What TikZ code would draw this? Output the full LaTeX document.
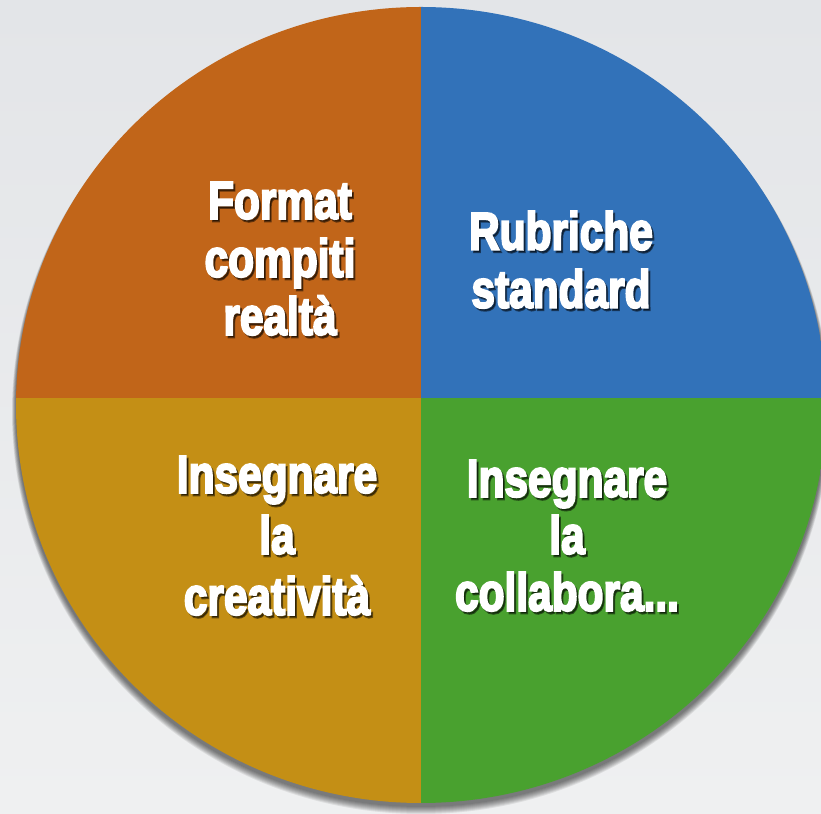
\documentclass[tikz,border=0pt]{standalone}
\usepackage{fontspec}
\setmainfont{Liberation Sans}
\definecolor{bgA}{HTML}{E3E5E8}
\definecolor{bgB}{HTML}{EFF0F1}
\definecolor{qOrange}{HTML}{C16519}
\definecolor{qBlue}{HTML}{3272B9}
\definecolor{qGold}{HTML}{C48F15}
\definecolor{qGreen}{HTML}{49A12F}
\newcommand\hv[1]{\special{pdf:literal direct 2 Tr 2.2 w}#1\special{pdf:literal direct 0 Tr}}
\newcommand\sh[1]{\makebox[0pt][l]{\hspace{2.5pt}\raisebox{-2.5pt}{\color{black}\pgfsetfillopacity{0.5}\pgfsetstrokeopacity{0.5}\hv{#1}\pgfsetfillopacity{1}\pgfsetstrokeopacity{1}}}\hv{#1}}
\tikzset{
  lbl/.style={anchor=north, inner sep=0pt, align=center, text=white,
    font=\bfseries\fontsize{53}{58}\selectfont, xscale=0.8},
}
\begin{document}
\begin{tikzpicture}[x=1pt,y=1pt]
\useasboundingbox (0,0) rectangle (821,813);
\shade[top color=bgA, bottom color=bgB] (0,0) rectangle (821,813);
% shadow of the disc
\foreach \i in {1,...,8} {
  \fill[black, opacity=0.08] (421,{408-3-0.5*\i}) ellipse ({405+0.5*\i} and {398+0.5*\i});
}
\begin{scope}
  \clip (421,408) ellipse (405 and 398);
  \fill[qOrange] (0,415) rectangle (421,813);
  \fill[qBlue] (421,415) rectangle (821,813);
  \fill[qGold] (0,0) rectangle (421,415);
  \fill[qGreen] (421,0) rectangle (821,415);
\end{scope}
% labels
\node[lbl] (f) at (280,631) {\sh{Format}\\\sh{compiti}\\\sh{realtà}};
\node[lbl] (r) at (561,602) {\sh{Rubriche}\\\sh{standard}};
\node[lbl, font=\bfseries\fontsize{53}{61}\selectfont] (c) at (277,357) {\sh{Insegnare}\\\sh{la}\\\sh{creatività}};
\node[lbl, font=\bfseries\fontsize{53}{57}\selectfont] (k) at (567,353) {\sh{Insegnare}\\\sh{la}\\\sh{collabora...}};
\end{tikzpicture}
\end{document}
